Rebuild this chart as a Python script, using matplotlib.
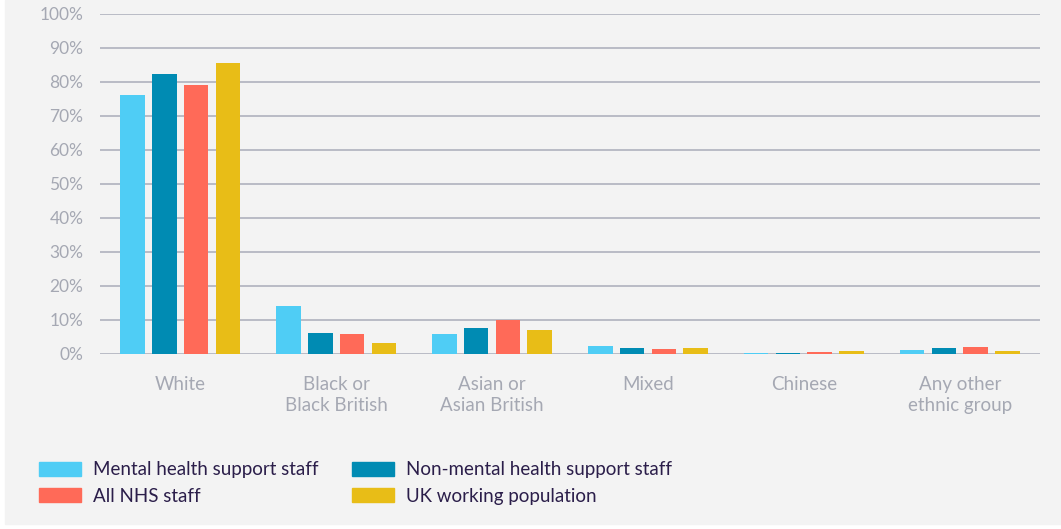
import numpy as np
import matplotlib
matplotlib.use("Agg")
import matplotlib.pyplot as plt
from matplotlib.patches import Rectangle, Patch

plt.rcParams["font.family"] = ["Lato", "DejaVu Sans"]

# Data (percent of staff / population by ethnic group)
categories = ["White", "Black or\nBlack British", "Asian or\nAsian British",
              "Mixed", "Chinese", "Any other\nethnic group"]
mental_health_support = [76.2, 14.0, 6.0, 2.4, 0.2, 1.3]
non_mental_health_support = [82.4, 6.3, 7.7, 1.9, 0.2, 1.9]
all_nhs_staff = [79.1, 6.0, 10.1, 1.6, 0.7, 2.2]
uk_working_population = [85.6, 3.3, 7.1, 1.9, 1.0, 1.0]

series = [
    ("Mental health support staff", mental_health_support, "#4fcdf5"),
    ("Non-mental health support staff", non_mental_health_support, "#008bb3"),
    ("All NHS staff", all_nhs_staff, "#ff6a58"),
    ("UK working population", uk_working_population, "#e8bd17"),
]

W, H = 1061, 529
fig = plt.figure(figsize=(W / 100, H / 100), dpi=100, facecolor="white")
# grey panel
fig.patches.append(Rectangle((5 / W, 5 / H), 1 - 5 / W, 1 - 5 / H,
                             transform=fig.transFigure, color="#f3f3f3", zorder=-5))

ax = fig.add_axes([100 / W, (H - 354) / H, 940 / W, 340 / H])
ax.set_zorder(2)
ax.set_facecolor("none")

x = np.arange(len(categories))
bar_w = 0.16
step = 0.205
offsets = (np.arange(4) - 1.5) * step
for (label, vals, color), off in zip(series, offsets):
    ax.bar(x + off, vals, width=bar_w, color=color, label=label, zorder=3)

ax.set_ylim(0, 100)
ax.set_xlim(-0.513, len(categories) - 1 + 0.513)
ax.set_yticks(np.arange(0, 101, 10))
ax.set_yticklabels([f"{v}%" for v in range(0, 101, 10)])
ax.yaxis.grid(True, color="#a9acb9", linewidth=1.1, zorder=0)
ax.set_axisbelow(True)
for s in ax.spines.values():
    s.set_visible(False)
ax.tick_params(axis="y", length=0, pad=12, labelsize=12.5, labelcolor="#a5a8b3")
ax.set_xticks(x)
ax.set_xticklabels(categories, linespacing=1.25)
ax.tick_params(axis="x", length=0, pad=16, labelsize=13.5, labelcolor="#a5a8b3")

handles = [Patch(color=c) for _, _, c in series]
labels = [l for l, _, _ in series]
order = [0, 2, 1, 3]
leg = fig.legend([handles[i] for i in order], [labels[i] for i in order],
                 loc="upper left", bbox_to_anchor=(30 / W, 1 - 452 / H), ncol=2,
                 frameon=False, borderpad=0, fontsize=13.5, labelcolor="#2b1e4a",
                 handlelength=2.24, handleheight=0.75, handletextpad=0.64,
                 columnspacing=1.76, labelspacing=0.5)
leg.set_zorder(3)

fig.savefig("out.png", dpi=100, facecolor=fig.get_facecolor())
